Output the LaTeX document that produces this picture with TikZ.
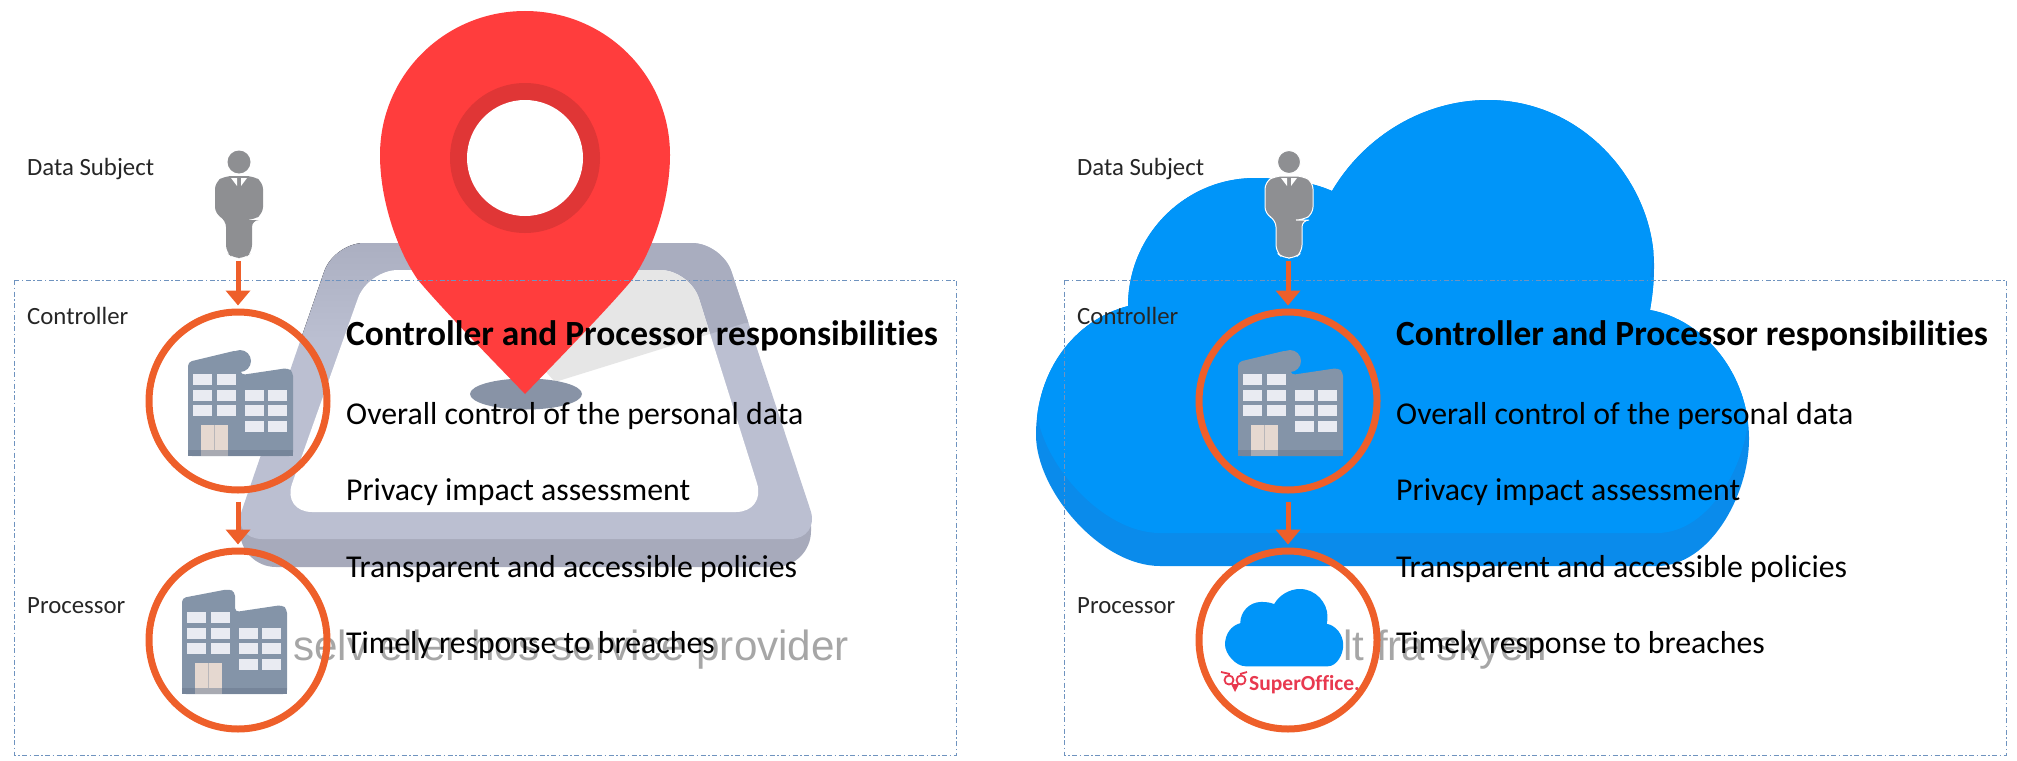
\documentclass[tikz,border=0pt]{standalone}
\usepackage{fontspec}
\setmainfont{Carlito}[Ligatures=NoCommon]
\newfontfamily\arialfont{Liberation Sans}
\usetikzlibrary{arrows.meta}

\definecolor{ringorange}{HTML}{EE5F2A}
\definecolor{pinred}{HTML}{FF3D3D}
\definecolor{pindark}{HTML}{E03636}
\definecolor{pinshade}{HTML}{8893A6}
\definecolor{framelight}{HTML}{BBBFD1}
\definecolor{frametop}{HTML}{A9ADBF}
\definecolor{framedark}{HTML}{A7AABB}
\definecolor{floorshade}{HTML}{E6E6E6}
\definecolor{cloudblue}{HTML}{0095F9}
\definecolor{clouddark}{HTML}{0A8BEB}
\definecolor{housegray}{HTML}{8494A8}
\definecolor{housedark}{HTML}{76859A}
\definecolor{housewin}{HTML}{E9EBF2}
\definecolor{housedoor}{HTML}{E5D8D0}
\definecolor{persongray}{HTML}{8E8F92}
\definecolor{boxblue}{HTML}{6F93BF}
\definecolor{ghostgray}{HTML}{A6A6A6}
\definecolor{officered}{HTML}{E8394F}

\tikzset{
  ringnode/.style={circle, draw=ringorange, line width=7pt, minimum size=178pt, inner sep=0pt},
  personbox/.style={minimum width=48pt, minimum height=103pt, inner sep=0pt, outer sep=0pt},
  flowarrow/.style={-{Triangle[width=24pt,length=15pt]}, ringorange, line width=5pt, shorten <=8pt, shorten >=3pt},
  rolelabel/.style={anchor=west, inner sep=0pt, text=black!85, font=\fontsize{24.8}{28}\selectfont},
  itemlabel/.style={anchor=west, inner sep=0pt, text=black, font=\fontsize{31.8}{36}\selectfont},
  headlabel/.style={itemlabel, font=\fontsize{35.4}{38}\selectfont\bfseries},
  ghostlabel/.style={anchor=west, inner sep=0pt, text=ghostgray, font=\arialfont\fontsize{42.2}{46}\selectfont},
  panelbox/.style={draw=boxblue, line width=1pt, dash pattern=on 5pt off 2.5pt on 1.5pt off 2.5pt},
  frameouter/.style={insert path={(232,539) -- (334,243) -- (722,243) -- (820,539) -- cycle}},
  frameinner/.style={insert path={(282,512) -- (368,270) -- (690,270) -- (766,512) -- cycle}},
  floorwedge/.style={insert path={(555,382) -- (745,323) -- (830,323) -- (830,230) -- (420,230) -- cycle}},
  cloudshape/.style={insert path={
    (1160,566) .. controls (1100,566) and (1036,490) .. (1036,435)
    .. controls (1036,370) and (1075,320) .. (1128,306)
    .. controls (1128,235) and (1185,178) .. (1255,178)
    .. controls (1285,178) and (1312,182) .. (1332,191)
    .. controls (1365,135) and (1425,100) .. (1488,100)
    .. controls (1585,100) and (1654,185) .. (1654,265)
    .. controls (1654,285) and (1652,298) .. (1650,310)
    .. controls (1705,320) and (1749,375) .. (1749,439)
    .. controls (1749,495) and (1710,566) .. (1657,566) -- cycle}},
  personicon/.pic={
    \path[pic actions] (0,-44) circle[radius=11.5];
    \path[pic actions, rounded corners=7pt] (-24,-24) -- (-14,-30) -- (14,-30) -- (24,-24)
      -- (24,8) -- (14,14) -- (13,14) -- (13,46) -- (6,52) -- (-6,52) -- (-13,46) -- (-13,14) -- (-24,8) -- cycle;
    \fill[white] (-8,-28) -- (-2,-28) -- (-2,-20) -- cycle;
    \fill[white] (8,-28) -- (2,-28) -- (2,-20) -- cycle;
  },
  buildingcap/.pic={
    \fill[housegray, rounded corners=4pt] (0,0) -- (0,-94) -- (50,-106) -- (53,-81) -- (100,-88) -- (105,-84) -- (105,0) -- cycle;
    \fill[housegray] (52,-95) circle[radius=11];
    \pic {housefront};
  },
  buildingflat/.pic={
    \fill[housegray, rounded corners=4pt] (0,0) -- (0,-96) -- (47,-105) -- (53,-102) -- (53,-82) -- (100,-89) -- (105,-85) -- (105,0) -- cycle;
    \pic {housefront};
  },
  housefront/.pic={
    \fill[housedark] (0,-6) rectangle (105,0);
    \foreach \wx in {5,29} \foreach \wy in {-82,-66,-51}
      \fill[housewin] (\wx,\wy) rectangle +(19,11);
    \foreach \wx in {57,80} \foreach \wy in {-66,-51,-35}
      \fill[housewin] (\wx,\wy) rectangle +(19,11);
    \fill[housedoor] (13,-31) rectangle (40,0);
    \draw[housedark!40!housedoor, line width=.6pt] (26.5,-31) -- (26.5,0);
    \fill[housedark!55!housedoor] (13,-6) rectangle (40,0);
  }
}

\begin{document}
\begin{tikzpicture}[x=1pt, y=-1pt]
  \useasboundingbox (0,0) rectangle (2017,760);

  % left panel background
  \fill[framedark, rounded corners=36pt] (240,490) rectangle (811,567);
  \fill[framelight, rounded corners=30pt, frameouter];
  \begin{scope}
    \clip[rounded corners=30pt, frameouter];
    \fill[frametop, floorwedge];
    \fill[top color=frametop, bottom color=framelight] (300,230) rectangle (420,340);
  \end{scope}
  \fill[white, rounded corners=30pt, frameinner];
  \begin{scope}
    \clip[rounded corners=30pt, frameinner];
    \fill[floorshade, floorwedge];
  \end{scope}
  \fill[pinshade] (526,394) ellipse[x radius=56, y radius=15.5];
  \fill[pinred] (525,394) .. controls (500,368) and (445,312) .. (418,280)
    .. controls (397,250) and (380,200) .. (380,155)
    .. controls (380,75) and (445,11) .. (525,11)
    .. controls (605,11) and (670,75) .. (670,155)
    .. controls (670,200) and (653,250) .. (632,280)
    .. controls (605,312) and (550,368) .. (525,394) -- cycle;
  \fill[pindark] (525,158) circle[radius=75];
  \fill[white] (525,158) circle[radius=58];

  % right panel background
  \fill[clouddark, cloudshape];
  \begin{scope}
    \clip[cloudshape];
    \fill[cloudblue, yshift=33pt, cloudshape];
  \end{scope}

  \draw[panelbox] (14,280) rectangle (956,755);
  \draw[panelbox] (1064,280) rectangle (2006,755);

  \node[ghostlabel] (ghostL) at (293,650) {selv eller hos service provider};
  \node[ghostlabel] (ghostR) at (1343,650) {lt fra skyen};

  % icons
  \pic[fill=persongray] at (239,206) {personicon};
  \pic[fill=persongray, draw=white, line width=1pt] at (1289,206) {personicon};
  \pic at (188,456) {buildingcap};
  \pic at (182,694) {buildingflat};
  \pic at (1238,456) {buildingcap};

  \fill[white] (1225,589) rectangle (1343,667);
  \begin{scope}[shift={(1225,589)}, scale=.1658, shift={(-1036,-100)}]
    \fill[cloudblue, cloudshape];
  \end{scope}
  \node[anchor=west, inner sep=0pt, text=officered, font=\fontsize{21.5}{24}\selectfont\bfseries] (office) at (1249,685) {SuperOffice.};
  \fill[officered] (1235,692) -- (1231,684) -- (1239,684) -- cycle;
  \draw[officered, line width=1.8pt] (1229,680) circle[radius=4.5] (1241,680) circle[radius=4.5]
    (1221,672) -- (1230,674) (1247,672) -- (1240,674);

  % rings and arrows
  \node[ringnode] (ctrlL) at (238,401) {};
  \node[ringnode] (procL) at (238,640) {};
  \node[personbox] (subjL) at (238,201.5) {};
  \node[ringnode] (ctrlR) at (1288,401) {};
  \node[ringnode] (procR) at (1288,640) {};
  \node[personbox] (subjR) at (1288,201.5) {};

  \draw[flowarrow] (subjL) -- (ctrlL);
  \draw[flowarrow] (ctrlL) -- (procL);
  \draw[flowarrow] (subjR) -- (ctrlR);
  \draw[flowarrow] (ctrlR) -- (procR);

  % texts
  \node[rolelabel] (dsL) at (27,169) {Data Subject};
  \node[rolelabel] (coL) at (27,316) {Controller};
  \node[rolelabel] (prL) at (27,606) {Processor};
  \node[headlabel] (headL) at (346,336) {Controller and Processor responsibilities};
  \node[itemlabel] (itemLa) at (346,416) {Overall control of the personal data};
  \node[itemlabel] (itemLb) at (346,492) {Privacy impact assessment};
  \node[itemlabel] (itemLc) at (346,569) {Transparent and accessible policies};
  \node[itemlabel] (itemLd) at (346,645) {Timely response to breaches};

  \node[rolelabel] (dsR) at (1077,169) {Data Subject};
  \node[rolelabel] (coR) at (1077,316) {Controller};
  \node[rolelabel] (prR) at (1077,606) {Processor};
  \node[headlabel] (headR) at (1396,336) {Controller and Processor responsibilities};
  \node[itemlabel] (itemRa) at (1396,416) {Overall control of the personal data};
  \node[itemlabel] (itemRb) at (1396,492) {Privacy impact assessment};
  \node[itemlabel] (itemRc) at (1396,569) {Transparent and accessible policies};
  \node[itemlabel] (itemRd) at (1396,645) {Timely response to breaches};

\end{tikzpicture}
\end{document}
